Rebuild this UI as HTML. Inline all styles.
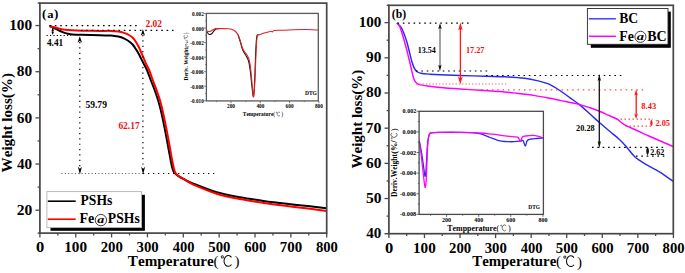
<!DOCTYPE html>
<html><head><meta charset="utf-8"><title>TGA</title>
<style>
html,body{margin:0;padding:0;background:#fff;}
body{width:685px;height:273px;overflow:hidden;font-family:"Liberation Serif",serif;}
svg{display:block;}
</style></head><body>
<svg width="685" height="273" viewBox="0 0 685 273" style="font-kerning:none">
<rect width="685" height="273" fill="#fff"/>
<line x1="39.9" y1="233.1" x2="39.9" y2="237.4" stroke="#4a4a4a" stroke-width="1.3" />
<line x1="57.83" y1="233.1" x2="57.83" y2="235.4" stroke="#4a4a4a" stroke-width="1.3" />
<line x1="75.75" y1="233.1" x2="75.75" y2="237.4" stroke="#4a4a4a" stroke-width="1.3" />
<line x1="93.67" y1="233.1" x2="93.67" y2="235.4" stroke="#4a4a4a" stroke-width="1.3" />
<line x1="111.6" y1="233.1" x2="111.6" y2="237.4" stroke="#4a4a4a" stroke-width="1.3" />
<line x1="129.53" y1="233.1" x2="129.53" y2="235.4" stroke="#4a4a4a" stroke-width="1.3" />
<line x1="147.45" y1="233.1" x2="147.45" y2="237.4" stroke="#4a4a4a" stroke-width="1.3" />
<line x1="165.38" y1="233.1" x2="165.38" y2="235.4" stroke="#4a4a4a" stroke-width="1.3" />
<line x1="183.3" y1="233.1" x2="183.3" y2="237.4" stroke="#4a4a4a" stroke-width="1.3" />
<line x1="201.22" y1="233.1" x2="201.22" y2="235.4" stroke="#4a4a4a" stroke-width="1.3" />
<line x1="219.15" y1="233.1" x2="219.15" y2="237.4" stroke="#4a4a4a" stroke-width="1.3" />
<line x1="237.08" y1="233.1" x2="237.08" y2="235.4" stroke="#4a4a4a" stroke-width="1.3" />
<line x1="255" y1="233.1" x2="255" y2="237.4" stroke="#4a4a4a" stroke-width="1.3" />
<line x1="272.93" y1="233.1" x2="272.93" y2="235.4" stroke="#4a4a4a" stroke-width="1.3" />
<line x1="290.85" y1="233.1" x2="290.85" y2="237.4" stroke="#4a4a4a" stroke-width="1.3" />
<line x1="308.77" y1="233.1" x2="308.77" y2="235.4" stroke="#4a4a4a" stroke-width="1.3" />
<line x1="326.7" y1="233.1" x2="326.7" y2="237.4" stroke="#4a4a4a" stroke-width="1.3" />
<line x1="35.5" y1="210.2" x2="39.9" y2="210.2" stroke="#4a4a4a" stroke-width="1.3" />
<line x1="37.6" y1="187.12" x2="39.9" y2="187.12" stroke="#4a4a4a" stroke-width="1.3" />
<line x1="35.5" y1="164.04" x2="39.9" y2="164.04" stroke="#4a4a4a" stroke-width="1.3" />
<line x1="37.6" y1="140.96" x2="39.9" y2="140.96" stroke="#4a4a4a" stroke-width="1.3" />
<line x1="35.5" y1="117.88" x2="39.9" y2="117.88" stroke="#4a4a4a" stroke-width="1.3" />
<line x1="37.6" y1="94.8" x2="39.9" y2="94.8" stroke="#4a4a4a" stroke-width="1.3" />
<line x1="35.5" y1="71.72" x2="39.9" y2="71.72" stroke="#4a4a4a" stroke-width="1.3" />
<line x1="37.6" y1="48.64" x2="39.9" y2="48.64" stroke="#4a4a4a" stroke-width="1.3" />
<line x1="35.5" y1="25.56" x2="39.9" y2="25.56" stroke="#4a4a4a" stroke-width="1.3" />
<line x1="37.7" y1="3.1" x2="39.9" y2="3.1" stroke="#4a4a4a" stroke-width="1.5" />
<line x1="37.7" y1="233.1" x2="39.9" y2="233.1" stroke="#4a4a4a" stroke-width="1.5" />
<text transform="translate(35.97 252.2) scale(1.1390 1)" font-size="14.5" fill="#000" font-weight="bold" font-family="Liberation Serif">0</text>
<text transform="translate(64.23 252.2) scale(1.0481 1)" font-size="14.5" fill="#000" font-weight="bold" font-family="Liberation Serif">100</text>
<text transform="translate(100.68 252.2) scale(1.0200 1)" font-size="14.5" fill="#000" font-weight="bold" font-family="Liberation Serif">200</text>
<text transform="translate(136.6 252.2) scale(1.0168 1)" font-size="14.5" fill="#000" font-weight="bold" font-family="Liberation Serif">300</text>
<text transform="translate(172.8 252.2) scale(1.0000 1)" font-size="14.5" fill="#000" font-weight="bold" font-family="Liberation Serif">400</text>
<text transform="translate(208.26 252.2) scale(1.0186 1)" font-size="14.5" fill="#000" font-weight="bold" font-family="Liberation Serif">500</text>
<text transform="translate(244.2 252.2) scale(1.0144 1)" font-size="14.5" fill="#000" font-weight="bold" font-family="Liberation Serif">600</text>
<text transform="translate(279.7 252.2) scale(1.0310 1)" font-size="14.5" fill="#000" font-weight="bold" font-family="Liberation Serif">700</text>
<text transform="translate(315.91 252.2) scale(1.0137 1)" font-size="14.5" fill="#000" font-weight="bold" font-family="Liberation Serif">800</text>
<text transform="translate(16.65 214.95) scale(1.0721 1)" font-size="14.5" fill="#000" font-weight="bold" font-family="Liberation Serif">20</text>
<text transform="translate(17.09 168.79) scale(1.0400 1)" font-size="14.5" fill="#000" font-weight="bold" font-family="Liberation Serif">40</text>
<text transform="translate(16.77 122.63) scale(1.0630 1)" font-size="14.5" fill="#000" font-weight="bold" font-family="Liberation Serif">60</text>
<text transform="translate(16.79 76.47) scale(1.0619 1)" font-size="14.5" fill="#000" font-weight="bold" font-family="Liberation Serif">80</text>
<text transform="translate(9.17 30.31) scale(1.0581 1)" font-size="14.5" fill="#000" font-weight="bold" font-family="Liberation Serif">100</text>
<text transform="translate(12.3 172.41) rotate(-90) scale(0.9749 1)" font-size="15.5" fill="#000" font-weight="bold" font-family="Liberation Serif">Weight loss(%)</text>
<text transform="translate(127.86 266.2) scale(1.0474 1)" font-size="14.5" fill="#000" font-weight="bold" font-family="Liberation Serif">Temperature</text>
<text x="213.56" y="266.2" font-size="15.08" fill="#000" font-family="Liberation Serif">(</text>
<circle cx="222.34" cy="256.92" r="1.09" fill="none" stroke="#000" stroke-width="1.02" opacity="0.8"/>
<path d="M231.47 257.39 A4.28 5.37 0 1 0 231.47 264.57" fill="none" stroke="#000" stroke-width="1.02"/>
<text x="234.62" y="266.49" font-size="15.08" fill="#000" font-family="Liberation Serif">)</text>
<text x="41.92" y="18.0" font-size="13.1" font-weight="bold" font-family="Liberation Serif">(</text>
<text transform="translate(47.29 18) scale(1.1448 1)" font-size="11" fill="#000" font-weight="bold" font-family="Liberation Serif">a</text>
<text x="53.91" y="18.0" font-size="13.1" font-weight="bold" font-family="Liberation Serif">)</text>
<line x1="204.1" y1="13.57" x2="206.4" y2="13.57" stroke="#5a5a5a" stroke-width="0.8" />
<line x1="205.2" y1="20.84" x2="206.4" y2="20.84" stroke="#5a5a5a" stroke-width="0.8" />
<line x1="204.1" y1="28.1" x2="206.4" y2="28.1" stroke="#5a5a5a" stroke-width="0.8" />
<line x1="205.2" y1="35.37" x2="206.4" y2="35.37" stroke="#5a5a5a" stroke-width="0.8" />
<line x1="204.1" y1="42.63" x2="206.4" y2="42.63" stroke="#5a5a5a" stroke-width="0.8" />
<line x1="205.2" y1="49.89" x2="206.4" y2="49.89" stroke="#5a5a5a" stroke-width="0.8" />
<line x1="204.1" y1="57.16" x2="206.4" y2="57.16" stroke="#5a5a5a" stroke-width="0.8" />
<line x1="205.2" y1="64.42" x2="206.4" y2="64.42" stroke="#5a5a5a" stroke-width="0.8" />
<line x1="204.1" y1="71.69" x2="206.4" y2="71.69" stroke="#5a5a5a" stroke-width="0.8" />
<line x1="205.2" y1="78.95" x2="206.4" y2="78.95" stroke="#5a5a5a" stroke-width="0.8" />
<line x1="204.1" y1="86.22" x2="206.4" y2="86.22" stroke="#5a5a5a" stroke-width="0.8" />
<line x1="205.2" y1="93.48" x2="206.4" y2="93.48" stroke="#5a5a5a" stroke-width="0.8" />
<line x1="204.1" y1="100.75" x2="206.4" y2="100.75" stroke="#5a5a5a" stroke-width="0.8" />
<text transform="translate(192 15.97) scale(0.9386 1)" font-size="5.6" fill="#000" font-weight="bold" font-family="Liberation Serif">0.002</text>
<text transform="translate(192 30.5) scale(0.9365 1)" font-size="5.6" fill="#000" font-weight="bold" font-family="Liberation Serif">0.000</text>
<text transform="translate(190.21 45.03) scale(0.9416 1)" font-size="5.6" fill="#000" font-weight="bold" font-family="Liberation Serif">-0.002</text>
<text transform="translate(190.21 59.56) scale(0.9325 1)" font-size="5.6" fill="#000" font-weight="bold" font-family="Liberation Serif">-0.004</text>
<text transform="translate(190.21 74.09) scale(0.9365 1)" font-size="5.6" fill="#000" font-weight="bold" font-family="Liberation Serif">-0.006</text>
<text transform="translate(190.21 88.62) scale(0.9379 1)" font-size="5.6" fill="#000" font-weight="bold" font-family="Liberation Serif">-0.008</text>
<text transform="translate(190.21 103.15) scale(0.9397 1)" font-size="5.6" fill="#000" font-weight="bold" font-family="Liberation Serif">-0.010</text>
<line x1="216.35" y1="100.9" x2="216.35" y2="102.1" stroke="#5a5a5a" stroke-width="0.8" />
<line x1="231" y1="100.9" x2="231" y2="103.2" stroke="#5a5a5a" stroke-width="0.8" />
<line x1="245.64" y1="100.9" x2="245.64" y2="102.1" stroke="#5a5a5a" stroke-width="0.8" />
<line x1="260.29" y1="100.9" x2="260.29" y2="103.2" stroke="#5a5a5a" stroke-width="0.8" />
<line x1="274.94" y1="100.9" x2="274.94" y2="102.1" stroke="#5a5a5a" stroke-width="0.8" />
<line x1="289.59" y1="100.9" x2="289.59" y2="103.2" stroke="#5a5a5a" stroke-width="0.8" />
<line x1="304.24" y1="100.9" x2="304.24" y2="102.1" stroke="#5a5a5a" stroke-width="0.8" />
<line x1="318.88" y1="100.9" x2="318.88" y2="103.2" stroke="#5a5a5a" stroke-width="0.8" />
<text transform="translate(226.97 107.9) scale(0.8921 1)" font-size="6" fill="#000" font-weight="bold" font-family="Liberation Serif">200</text>
<text transform="translate(256.42 107.9) scale(0.8746 1)" font-size="6" fill="#000" font-weight="bold" font-family="Liberation Serif">400</text>
<text transform="translate(285.61 107.9) scale(0.8872 1)" font-size="6" fill="#000" font-weight="bold" font-family="Liberation Serif">600</text>
<text transform="translate(314.91 107.9) scale(0.8866 1)" font-size="6" fill="#000" font-weight="bold" font-family="Liberation Serif">800</text>
<text transform="translate(242.82 116) scale(0.8447 1)" font-size="6.4" fill="#000" font-weight="bold" font-family="Liberation Serif">Temperature</text>
<text x="273.32" y="116" font-size="5.62" fill="#000" font-family="Liberation Serif">(</text>
<circle cx="276.59" cy="112.54" r="0.41" fill="none" stroke="#000" stroke-width="0.45" opacity="0.8"/>
<path d="M279.99 112.72 A1.59 2 0 1 0 279.99 115.39" fill="none" stroke="#000" stroke-width="0.45"/>
<text x="281.17" y="116.11" font-size="5.62" fill="#000" font-family="Liberation Serif">)</text>
<g transform="translate(187.6 80.4) rotate(-90)">
<text transform="translate(-0.1 0) scale(1.0070 1)" font-size="5.4" fill="#000" font-weight="bold" font-family="Liberation Serif">Deriv. Weight</text>
<text x="32.68" y="0" font-size="5" font-weight="bold" font-family="Liberation Serif" fill="#000">(%/</text>
<circle cx="42.03" cy="-3.2" r="0.38" fill="none" stroke="#000" stroke-width="0.45" opacity="0.8"/>
<path d="M45.18 -3.04 A1.47 1.85 0 1 0 45.18 -0.56" fill="none" stroke="#000" stroke-width="0.45"/>
<text x="46.27" y="0.1" font-size="5.2" fill="#000" font-family="Liberation Serif">)</text>
</g>
<text transform="translate(304.9 94.6) scale(1.0110 1)" font-size="5.5" fill="#000" font-weight="bold" font-family="Liberation Serif">DTG</text>
<path d="M206.5 31.5 C206.83 31.88 207.92 33.3 208.5 33.8 C209.08 34.3 209.42 34.55 210 34.5 C210.58 34.45 211.33 34.12 212 33.5 C212.67 32.88 213.33 31.55 214 30.8 C214.67 30.05 215 29.37 216 29 C217 28.63 219.33 28.67 220 28.6" fill="none" stroke="#111" stroke-width="1.1"/>
<path d="M238 34.7 C238.38 35.88 239.6 39.5 240.3 41.8 C241 44.1 241.55 46.67 242.2 48.5 C242.85 50.33 243.48 51.47 244.2 52.8 C244.92 54.13 245.75 55.05 246.5 56.5 C247.25 57.95 248.07 59.08 248.7 61.5 C249.33 63.92 249.78 67.08 250.3 71 C250.82 74.92 251.32 80.78 251.8 85 C252.28 89.22 252.78 95.8 253.2 96.3 C253.62 96.8 254 92.05 254.3 88 C254.6 83.95 254.75 78.33 255 72 C255.25 65.67 255.5 55.92 255.8 50 C256.1 44.08 256.35 39 256.8 36.5 C257.25 34 258.22 35.25 258.5 35" fill="none" stroke="#111" stroke-width="1.1"/>
<path d="M206.5 30.9 C206.83 31.02 207.83 31.53 208.5 31.6 C209.17 31.67 209.75 31.6 210.5 31.3 C211.25 31 212.08 30.27 213 29.8 C213.92 29.33 214.83 28.7 216 28.5 C217.17 28.3 217.92 28.57 220 28.6 C222.08 28.63 226.5 28.57 228.5 28.7 C230.5 28.83 230.92 29.02 232 29.4 C233.08 29.78 234 30.12 235 31 C236 31.88 237.08 32.95 238 34.7 C238.92 36.45 239.75 39.28 240.5 41.5 C241.25 43.72 241.83 46.28 242.5 48 C243.17 49.72 243.75 50.63 244.5 51.8 C245.25 52.97 246.2 53.55 247 55 C247.8 56.45 248.67 58 249.3 60.5 C249.93 63 250.32 65.92 250.8 70 C251.28 74.08 251.75 80.5 252.2 85 C252.65 89.5 253.12 96.5 253.5 97 C253.88 97.5 254.2 92.17 254.5 88 C254.8 83.83 255.02 78.33 255.3 72 C255.58 65.67 255.88 56 256.2 50 C256.52 44 256.73 38.53 257.2 36 C257.67 33.47 258.1 35.2 259 34.8 C259.9 34.4 261.27 34.02 262.6 33.6 C263.93 33.18 265.6 32.7 267 32.3 C268.4 31.9 270.12 31.27 271 31.2 C271.88 31.13 271.8 32 272.3 31.9 C272.8 31.8 272.77 30.88 274 30.6 C275.23 30.32 277.03 30.32 279.7 30.2 C282.37 30.08 285.78 30 290 29.9 C294.22 29.8 300.3 29.57 305 29.6 C309.7 29.63 316 30.02 318.2 30.1" fill="none" stroke="#e42020" stroke-width="1.05"/>
<rect x="206.4" y="13.4" width="111.9" height="87.5" fill="none" stroke="#5a5a5a" stroke-width="1.3"/>
<path d="M49.6 26 C50.37 26.33 52.68 27.28 54.2 28 C55.72 28.72 57.18 29.57 58.7 30.3 C60.22 31.03 61.77 31.83 63.3 32.4 C64.83 32.97 66.37 33.37 67.9 33.7 C69.43 34.03 70.22 34.22 72.5 34.4 C74.78 34.58 77.02 34.65 81.6 34.8 C86.18 34.95 95.1 35.17 100 35.3 C104.9 35.43 107.95 35.38 111 35.6 C114.05 35.82 116.17 36.15 118.3 36.6 C120.43 37.05 122.1 37.57 123.8 38.3 C125.5 39.03 127.03 39.97 128.5 41 C129.97 42.03 131.38 43.17 132.6 44.5 C133.82 45.83 134.77 47.42 135.8 49 C136.83 50.58 137.88 52.33 138.8 54 C139.72 55.67 140.46 57.33 141.3 59 C142.14 60.67 142.89 62.17 143.82 64 C144.76 65.83 145.78 67.33 146.93 70 C148.08 72.67 149.43 76.67 150.71 80 C151.99 83.33 153.41 86.67 154.62 90 C155.84 93.33 157.01 96.67 158.03 100 C159.04 103.33 159.91 106.67 160.74 110 C161.56 113.33 162.27 116.67 162.98 120 C163.69 123.33 164.35 126.67 165.01 130 C165.66 133.33 166.29 136.67 166.92 140 C167.54 143.33 168.13 146.67 168.75 150 C169.37 153.33 169.97 156.83 170.61 160 C171.25 163.17 171.95 166.83 172.6 169 C173.25 171.17 173.6 171.87 174.5 173 C175.4 174.13 176.42 174.77 178 175.8 C179.58 176.83 181.45 177.9 184 179.2 C186.55 180.5 187.85 181.43 193.3 183.6 C198.75 185.77 208.92 189.92 216.7 192.2 C224.48 194.48 232.2 195.85 240 197.3 C247.8 198.75 255.7 199.82 263.5 200.9 C271.3 201.98 279.05 202.9 286.8 203.8 C294.55 204.7 303.4 205.57 310 206.3 C316.6 207.03 323.67 207.88 326.4 208.2" fill="none" stroke="#000" stroke-width="2"/>
<path d="M49.6 26 C50.37 26.22 52.68 26.9 54.2 27.3 C55.72 27.7 57.18 28.05 58.7 28.4 C60.22 28.75 61 29.08 63.3 29.4 C65.6 29.72 69.45 30.08 72.5 30.3 C75.55 30.52 77.02 30.6 81.6 30.7 C86.18 30.8 95.1 30.87 100 30.9 C104.9 30.93 107.95 30.8 111 30.9 C114.05 31 116.13 31.17 118.3 31.5 C120.47 31.83 122.22 32.32 124 32.9 C125.78 33.48 127.5 34.15 129 35 C130.5 35.85 131.78 36.75 133 38 C134.22 39.25 135.33 41 136.3 42.5 C137.27 44 138.02 45.42 138.8 47 C139.58 48.58 140.2 50.17 141 52 C141.8 53.83 142.74 56 143.6 58 C144.46 60 145.22 62 146.14 64 C147.06 66 148.01 67.33 149.11 70 C150.21 72.67 151.49 76.67 152.73 80 C153.97 83.33 155.37 86.67 156.56 90 C157.75 93.33 158.9 96.67 159.88 100 C160.87 103.33 161.68 106.67 162.47 110 C163.27 113.33 163.94 116.67 164.62 120 C165.31 123.33 165.96 126.67 166.61 130 C167.26 133.33 167.9 136.67 168.51 140 C169.13 143.33 169.71 146.67 170.31 150 C170.91 153.33 171.49 156.83 172.11 160 C172.72 163.17 173.42 166.77 174 169 C174.58 171.23 174.77 172.18 175.6 173.4 C176.43 174.62 177.43 175.22 179 176.3 C180.57 177.38 182.62 178.52 185 179.9 C187.38 181.28 188.02 182.3 193.3 184.6 C198.58 186.9 208.92 191.28 216.7 193.7 C224.48 196.12 232.2 197.57 240 199.1 C247.8 200.63 255.7 201.75 263.5 202.9 C271.3 204.05 279.05 205.02 286.8 206 C294.55 206.98 303.4 207.98 310 208.8 C316.6 209.62 323.67 210.55 326.4 210.9" fill="none" stroke="#ff0000" stroke-width="2"/>
<line x1="49.5" y1="25.55" x2="140" y2="25.55" stroke="#000" stroke-width="1.2" stroke-dasharray="1.6 3.75" opacity="1"/>
<line x1="46.6" y1="35.5" x2="71" y2="35.5" stroke="#000" stroke-width="1" stroke-dasharray="1.2 2.2" opacity="1"/>
<line x1="81" y1="30.45" x2="174" y2="30.45" stroke="#000" stroke-width="1.2" stroke-dasharray="1.6 3.75" opacity="1"/>
<line x1="61.5" y1="173.5" x2="143" y2="173.5" stroke="#333" stroke-width="1" stroke-dasharray="1 2.35" opacity="0.85"/>
<line x1="143" y1="173.5" x2="217" y2="173.5" stroke="#000" stroke-width="1" stroke-dasharray="1.3 3.7" opacity="1"/>
<line x1="79.8" y1="42" x2="79.8" y2="168" stroke="#000" stroke-width="1.2" stroke-dasharray="1.2 4.15" opacity="1"/>
<line x1="142.9" y1="35" x2="142.9" y2="168" stroke="#000" stroke-width="1.2" stroke-dasharray="1.2 4.15" opacity="1"/>
<path d="M79.8 36.2 L77.5 42.8 L79.8 41 L82.1 42.8 Z" fill="#000"/>
<path d="M79.9 174.6 L77.9 166.8 L79.9 168.8 L81.9 166.8 Z" fill="#000"/>
<path d="M142.9 29.1 L140.8 35.7 L142.9 34.1 L145 35.7 Z" fill="#000"/>
<path d="M143.1 174.6 L141.1 166.8 L143.1 168.8 L145.1 166.8 Z" fill="#000"/>
<line x1="52.7" y1="29.5" x2="52.7" y2="33" stroke="#111" stroke-width="1" />
<path d="M52.7 27.3 L51.4 30.9 L52.7 30.4 L54 30.9 Z" fill="#000"/>
<path d="M52.7 35 L51.4 31.4 L52.7 31.9 L54 31.4 Z" fill="#000"/>
<text transform="translate(46.97 46.4) scale(0.9958 1)" font-size="9.3" fill="#000" font-weight="bold" font-family="Liberation Serif">4.41</text>
<text transform="translate(85.42 107.5) scale(0.9568 1)" font-size="10" fill="#000" font-weight="bold" font-family="Liberation Serif">59.79</text>
<text transform="translate(118.38 128.9) scale(0.9492 1)" font-size="10" fill="#f01010" font-weight="bold" font-family="Liberation Serif">62.17</text>
<text transform="translate(145.5 26.5) scale(0.9489 1)" font-size="10" fill="#f01010" font-weight="bold" font-family="Liberation Serif">2.02</text>
<rect x="50.5" y="194.8" width="94.4" height="36.0" fill="#000"/>
<rect x="46.9" y="191.6" width="94.6" height="36.0" fill="#fff" stroke="#b4b4b4" stroke-width="0.9"/>
<line x1="47.8" y1="201.2" x2="75.7" y2="201.2" stroke="#000" stroke-width="1.6" />
<line x1="47.8" y1="219.2" x2="75.7" y2="219.2" stroke="#ff0000" stroke-width="1.6" />
<text transform="translate(80.57 205.1) scale(0.8954 1)" font-size="15.2" fill="#000" font-weight="bold" font-family="Liberation Serif">PSHs</text>
<text transform="translate(79.46 222.8) scale(0.9299 1)" font-size="15.2" fill="#000" font-weight="bold" font-family="Liberation Serif">Fe</text>
<circle cx="100.9" cy="220.1" r="5.7" fill="none" stroke="#000" stroke-width="0.75"/>
<text transform="translate(97.34 222.8) scale(1.273 1)" font-size="11" fill="#000" font-weight="bold" font-style="italic" font-family="Liberation Serif">a</text>
<text transform="translate(107.87 222.8) scale(0.8982 1)" font-size="15.2" fill="#000" font-weight="bold" font-family="Liberation Serif">PSHs</text>
<rect x="39.9" y="3.1" width="286.8" height="230" fill="none" stroke="#474747" stroke-width="1.7"/>
<line x1="388.9" y1="233.7" x2="388.9" y2="238.1" stroke="#4a4a4a" stroke-width="1.3" />
<line x1="406.68" y1="233.7" x2="406.68" y2="236" stroke="#4a4a4a" stroke-width="1.3" />
<line x1="424.46" y1="233.7" x2="424.46" y2="238.1" stroke="#4a4a4a" stroke-width="1.3" />
<line x1="442.24" y1="233.7" x2="442.24" y2="236" stroke="#4a4a4a" stroke-width="1.3" />
<line x1="460.03" y1="233.7" x2="460.03" y2="238.1" stroke="#4a4a4a" stroke-width="1.3" />
<line x1="477.81" y1="233.7" x2="477.81" y2="236" stroke="#4a4a4a" stroke-width="1.3" />
<line x1="495.59" y1="233.7" x2="495.59" y2="238.1" stroke="#4a4a4a" stroke-width="1.3" />
<line x1="513.37" y1="233.7" x2="513.37" y2="236" stroke="#4a4a4a" stroke-width="1.3" />
<line x1="531.15" y1="233.7" x2="531.15" y2="238.1" stroke="#4a4a4a" stroke-width="1.3" />
<line x1="548.93" y1="233.7" x2="548.93" y2="236" stroke="#4a4a4a" stroke-width="1.3" />
<line x1="566.71" y1="233.7" x2="566.71" y2="238.1" stroke="#4a4a4a" stroke-width="1.3" />
<line x1="584.5" y1="233.7" x2="584.5" y2="236" stroke="#4a4a4a" stroke-width="1.3" />
<line x1="602.28" y1="233.7" x2="602.28" y2="238.1" stroke="#4a4a4a" stroke-width="1.3" />
<line x1="620.06" y1="233.7" x2="620.06" y2="236" stroke="#4a4a4a" stroke-width="1.3" />
<line x1="637.84" y1="233.7" x2="637.84" y2="238.1" stroke="#4a4a4a" stroke-width="1.3" />
<line x1="655.62" y1="233.7" x2="655.62" y2="236" stroke="#4a4a4a" stroke-width="1.3" />
<line x1="673.4" y1="233.7" x2="673.4" y2="238.1" stroke="#4a4a4a" stroke-width="1.3" />
<line x1="386.6" y1="216.11" x2="388.9" y2="216.11" stroke="#4a4a4a" stroke-width="1.3" />
<line x1="384.5" y1="198.52" x2="388.9" y2="198.52" stroke="#4a4a4a" stroke-width="1.3" />
<line x1="386.6" y1="180.93" x2="388.9" y2="180.93" stroke="#4a4a4a" stroke-width="1.3" />
<line x1="384.5" y1="163.34" x2="388.9" y2="163.34" stroke="#4a4a4a" stroke-width="1.3" />
<line x1="386.6" y1="145.75" x2="388.9" y2="145.75" stroke="#4a4a4a" stroke-width="1.3" />
<line x1="384.5" y1="128.16" x2="388.9" y2="128.16" stroke="#4a4a4a" stroke-width="1.3" />
<line x1="386.6" y1="110.57" x2="388.9" y2="110.57" stroke="#4a4a4a" stroke-width="1.3" />
<line x1="384.5" y1="92.98" x2="388.9" y2="92.98" stroke="#4a4a4a" stroke-width="1.3" />
<line x1="386.6" y1="75.39" x2="388.9" y2="75.39" stroke="#4a4a4a" stroke-width="1.3" />
<line x1="384.5" y1="57.8" x2="388.9" y2="57.8" stroke="#4a4a4a" stroke-width="1.3" />
<line x1="386.6" y1="40.21" x2="388.9" y2="40.21" stroke="#4a4a4a" stroke-width="1.3" />
<line x1="384.5" y1="22.62" x2="388.9" y2="22.62" stroke="#4a4a4a" stroke-width="1.3" />
<line x1="386.7" y1="5.3" x2="388.9" y2="5.3" stroke="#4a4a4a" stroke-width="1.5" />
<line x1="384.5" y1="233.7" x2="388.9" y2="233.7" stroke="#4a4a4a" stroke-width="1.5" />
<text transform="translate(384.97 253.3) scale(1.1390 1)" font-size="14.5" fill="#000" font-weight="bold" font-family="Liberation Serif">0</text>
<text transform="translate(412.95 253.3) scale(1.0481 1)" font-size="14.5" fill="#000" font-weight="bold" font-family="Liberation Serif">100</text>
<text transform="translate(449.1 253.3) scale(1.0200 1)" font-size="14.5" fill="#000" font-weight="bold" font-family="Liberation Serif">200</text>
<text transform="translate(484.73 253.3) scale(1.0168 1)" font-size="14.5" fill="#000" font-weight="bold" font-family="Liberation Serif">300</text>
<text transform="translate(520.65 253.3) scale(1.0000 1)" font-size="14.5" fill="#000" font-weight="bold" font-family="Liberation Serif">400</text>
<text transform="translate(555.82 253.3) scale(1.0186 1)" font-size="14.5" fill="#000" font-weight="bold" font-family="Liberation Serif">500</text>
<text transform="translate(591.48 253.3) scale(1.0144 1)" font-size="14.5" fill="#000" font-weight="bold" font-family="Liberation Serif">600</text>
<text transform="translate(626.69 253.3) scale(1.0310 1)" font-size="14.5" fill="#000" font-weight="bold" font-family="Liberation Serif">700</text>
<text transform="translate(662.62 253.3) scale(1.0137 1)" font-size="14.5" fill="#000" font-weight="bold" font-family="Liberation Serif">800</text>
<text transform="translate(366.29 238.1) scale(1.0190 1)" font-size="14.8" fill="#000" font-weight="bold" font-family="Liberation Serif">40</text>
<text transform="translate(365.88 202.92) scale(1.0481 1)" font-size="14.8" fill="#000" font-weight="bold" font-family="Liberation Serif">50</text>
<text transform="translate(365.97 167.74) scale(1.0415 1)" font-size="14.8" fill="#000" font-weight="bold" font-family="Liberation Serif">60</text>
<text transform="translate(365.6 132.56) scale(1.0679 1)" font-size="14.8" fill="#000" font-weight="bold" font-family="Liberation Serif">70</text>
<text transform="translate(365.99 97.38) scale(1.0404 1)" font-size="14.8" fill="#000" font-weight="bold" font-family="Liberation Serif">80</text>
<text transform="translate(366.08 62.2) scale(1.0339 1)" font-size="14.8" fill="#000" font-weight="bold" font-family="Liberation Serif">90</text>
<text transform="translate(358.69 27.02) scale(1.0219 1)" font-size="14.8" fill="#000" font-weight="bold" font-family="Liberation Serif">100</text>
<text transform="translate(362.1 168.51) rotate(-90) scale(0.9690 1)" font-size="15.5" fill="#000" font-weight="bold" font-family="Liberation Serif">Weight loss(%)</text>
<text transform="translate(472.27 266.4) scale(1.0241 1)" font-size="14.5" fill="#000" font-weight="bold" font-family="Liberation Serif">Temperature</text>
<text x="556.06" y="266.4" font-size="15.08" fill="#000" font-family="Liberation Serif">(</text>
<circle cx="564.85" cy="257.12" r="1.09" fill="none" stroke="#000" stroke-width="1.02" opacity="0.8"/>
<path d="M573.97 257.59 A4.28 5.37 0 1 0 573.97 264.77" fill="none" stroke="#000" stroke-width="1.02"/>
<text x="577.12" y="266.69" font-size="15.08" fill="#000" font-family="Liberation Serif">)</text>
<text transform="translate(391.78 18.4) scale(0.9937 1)" font-size="11.8" fill="#000" font-weight="bold" font-family="Liberation Serif">(b)</text>
<line x1="416.6" y1="111.3" x2="419.1" y2="111.3" stroke="#4a4a4a" stroke-width="0.8" />
<line x1="417.8" y1="121.6" x2="419.1" y2="121.6" stroke="#4a4a4a" stroke-width="0.8" />
<line x1="416.6" y1="131.9" x2="419.1" y2="131.9" stroke="#4a4a4a" stroke-width="0.8" />
<line x1="417.8" y1="142.2" x2="419.1" y2="142.2" stroke="#4a4a4a" stroke-width="0.8" />
<line x1="416.6" y1="152.5" x2="419.1" y2="152.5" stroke="#4a4a4a" stroke-width="0.8" />
<line x1="417.8" y1="162.8" x2="419.1" y2="162.8" stroke="#4a4a4a" stroke-width="0.8" />
<line x1="416.6" y1="173.1" x2="419.1" y2="173.1" stroke="#4a4a4a" stroke-width="0.8" />
<line x1="417.8" y1="183.4" x2="419.1" y2="183.4" stroke="#4a4a4a" stroke-width="0.8" />
<line x1="416.6" y1="193.7" x2="419.1" y2="193.7" stroke="#4a4a4a" stroke-width="0.8" />
<line x1="417.8" y1="204" x2="419.1" y2="204" stroke="#4a4a4a" stroke-width="0.8" />
<line x1="416.6" y1="214.3" x2="419.1" y2="214.3" stroke="#4a4a4a" stroke-width="0.8" />
<text transform="translate(402.57 113.3) scale(1.1704 1)" font-size="5.2" fill="#000" font-weight="bold" font-family="Liberation Serif">0.002</text>
<text transform="translate(402.57 133.9) scale(1.1677 1)" font-size="5.2" fill="#000" font-weight="bold" font-family="Liberation Serif">0.000</text>
<text transform="translate(399.97 154.5) scale(1.2137 1)" font-size="5.2" fill="#000" font-weight="bold" font-family="Liberation Serif">-0.002</text>
<text transform="translate(399.97 175.1) scale(1.2020 1)" font-size="5.2" fill="#000" font-weight="bold" font-family="Liberation Serif">-0.004</text>
<text transform="translate(399.97 195.7) scale(1.2071 1)" font-size="5.2" fill="#000" font-weight="bold" font-family="Liberation Serif">-0.006</text>
<text transform="translate(399.97 216.3) scale(1.2090 1)" font-size="5.2" fill="#000" font-weight="bold" font-family="Liberation Serif">-0.008</text>
<line x1="430.55" y1="214.4" x2="430.55" y2="215.7" stroke="#4a4a4a" stroke-width="0.8" />
<line x1="446.6" y1="214.4" x2="446.6" y2="216.9" stroke="#4a4a4a" stroke-width="0.8" />
<line x1="462.65" y1="214.4" x2="462.65" y2="215.7" stroke="#4a4a4a" stroke-width="0.8" />
<line x1="478.7" y1="214.4" x2="478.7" y2="216.9" stroke="#4a4a4a" stroke-width="0.8" />
<line x1="494.75" y1="214.4" x2="494.75" y2="215.7" stroke="#4a4a4a" stroke-width="0.8" />
<line x1="510.8" y1="214.4" x2="510.8" y2="216.9" stroke="#4a4a4a" stroke-width="0.8" />
<line x1="526.85" y1="214.4" x2="526.85" y2="215.7" stroke="#4a4a4a" stroke-width="0.8" />
<line x1="542.9" y1="214.4" x2="542.9" y2="216.9" stroke="#4a4a4a" stroke-width="0.8" />
<text transform="translate(442.05 222.3) scale(0.9318 1)" font-size="6.5" fill="#000" font-weight="bold" font-family="Liberation Serif">200</text>
<text transform="translate(474.32 222.3) scale(0.9136 1)" font-size="6.5" fill="#000" font-weight="bold" font-family="Liberation Serif">400</text>
<text transform="translate(506.29 222.3) scale(0.9267 1)" font-size="6.5" fill="#000" font-weight="bold" font-family="Liberation Serif">600</text>
<text transform="translate(538.4 222.3) scale(0.9261 1)" font-size="6.5" fill="#000" font-weight="bold" font-family="Liberation Serif">800</text>
<text transform="translate(447.28 230.7) scale(1.0038 1)" font-size="7.9" fill="#000" font-weight="bold" font-family="Liberation Serif">Tempperature</text>
<text x="496.43" y="230.7" font-size="8.22" fill="#000" font-family="Liberation Serif">(</text>
<circle cx="501.22" cy="225.64" r="0.59" fill="none" stroke="#000" stroke-width="0.55" opacity="0.8"/>
<path d="M506.19 225.9 A2.33 2.92 0 1 0 506.19 229.81" fill="none" stroke="#000" stroke-width="0.55"/>
<text x="507.91" y="230.86" font-size="8.22" fill="#000" font-family="Liberation Serif">)</text>
<g transform="translate(397.0 196.8) rotate(-90)">
<text transform="translate(-0.13 0) scale(0.9811 1)" font-size="7.6" fill="#000" font-weight="bold" font-family="Liberation Serif">Deriv.Weight</text>
<text x="43" y="0" font-size="8.3" font-weight="bold" font-family="Liberation Serif" fill="#000">(%/</text>
<circle cx="58.53" cy="-5.31" r="0.62" fill="none" stroke="#000" stroke-width="0.58" opacity="0.8"/>
<path d="M63.75 -5.04 A2.45 3.07 0 1 0 63.75 -0.93" fill="none" stroke="#000" stroke-width="0.58"/>
<text x="65.55" y="0.17" font-size="8.63" fill="#000" font-family="Liberation Serif">)</text>
</g>
<text transform="translate(528.31 209.2) scale(0.8665 1)" font-size="6.2" fill="#000" font-weight="bold" font-family="Liberation Serif">DTG</text>
<path d="M419.3 141 C419.5 142 420.05 144.58 420.5 147 C420.95 149.42 421.5 152.33 422 155.5 C422.5 158.67 423.08 163 423.5 166 C423.92 169 424.22 171.78 424.5 173.5 C424.78 175.22 424.97 176.55 425.2 176.3 C425.43 176.05 425.67 174.72 425.9 172 C426.13 169.28 426.37 164.17 426.6 160 C426.83 155.83 427.03 150.58 427.3 147 C427.57 143.42 427.83 140.62 428.2 138.5 C428.57 136.38 428.95 135.25 429.5 134.3 C430.05 133.35 429.75 133.12 431.5 132.8 C433.25 132.48 435.25 132.47 440 132.4 C444.75 132.33 454.17 132.33 460 132.4 C465.83 132.47 471.38 132.5 475 132.8 C478.62 133.1 479.2 133.42 481.7 134.2 C484.2 134.98 487.32 136.48 490 137.5 C492.68 138.52 495.3 139.63 497.8 140.3 C500.3 140.97 502.32 141.27 505 141.5 C507.68 141.73 511.4 141.75 513.9 141.7 C516.4 141.65 518.48 141.4 520 141.2 C521.52 141 522.12 139.67 523 140.5 C523.88 141.33 524.58 146.2 525.3 146.2 C526.02 146.2 526.27 141.7 527.3 140.5 C528.33 139.3 529.88 139.33 531.5 139 C533.12 138.67 535.03 138.68 537 138.5 C538.97 138.32 542.25 138 543.3 137.9" fill="none" stroke="#2a2af0" stroke-width="1.3"/>
<path d="M419.5 143.5 C419.7 144.75 420.25 147.58 420.7 151 C421.15 154.42 421.73 159.83 422.2 164 C422.67 168.17 423.08 172.42 423.5 176 C423.92 179.58 424.38 183.63 424.7 185.5 C425.02 187.37 425.17 187.78 425.4 187.2 C425.63 186.62 425.88 185.2 426.1 182 C426.32 178.8 426.48 173.17 426.7 168 C426.92 162.83 427.15 155.75 427.4 151 C427.65 146.25 427.87 142.23 428.2 139.5 C428.53 136.77 428.88 135.73 429.4 134.6 C429.92 133.47 429.53 133.08 431.3 132.7 C433.07 132.32 435.22 132.37 440 132.3 C444.78 132.23 453.33 132.18 460 132.3 C466.67 132.42 474.67 132.68 480 133 C485.33 133.32 487.83 133.73 492 134.2 C496.17 134.67 501.33 135.37 505 135.8 C508.67 136.23 511.78 136.5 514 136.8 C516.22 137.1 517.22 136.82 518.3 137.6 C519.38 138.38 519.83 141.6 520.5 141.5 C521.17 141.4 521.38 137.92 522.3 137 C523.22 136.08 524.22 136.27 526 136 C527.78 135.73 531 135.37 533 135.4 C535 135.43 536.28 135.78 538 136.2 C539.72 136.62 542.42 137.62 543.3 137.9" fill="none" stroke="#ff00ff" stroke-width="1.3"/>
<rect x="419.1" y="111.3" width="124.3" height="103.1" fill="none" stroke="#4a4a4a" stroke-width="1.3"/>
<path d="M396.9 23 C397.58 23.7 399.7 25.12 401 27.2 C402.3 29.28 403.7 32.95 404.7 35.5 C405.7 38.05 406.28 40.05 407 42.5 C407.72 44.95 408.17 46.95 409 50.2 C409.83 53.45 411.03 58.83 412 62 C412.97 65.17 413.88 67.53 414.8 69.2 C415.72 70.87 416.47 71.32 417.5 72 C418.53 72.68 418.92 72.93 421 73.3 C423.08 73.67 426.83 73.95 430 74.2 C433.17 74.45 435 74.58 440 74.8 C445 75.02 452.33 75.25 460 75.5 C467.67 75.75 478.5 76.08 486 76.3 C493.5 76.52 498.57 76.47 505 76.8 C511.43 77.13 519.27 77.67 524.6 78.3 C529.93 78.93 532.77 79.55 537 80.6 C541.23 81.65 545.83 82.7 550 84.6 C554.17 86.5 558.67 89.8 562 92 C565.33 94.2 567.17 95.73 570 97.8 C572.83 99.87 575.67 101.7 579 104.4 C582.33 107.1 586.55 110.93 590 114 C593.45 117.07 596.37 119.88 599.7 122.8 C603.03 125.72 606.62 128.63 610 131.5 C613.38 134.37 617.17 137.33 620 140 C622.83 142.67 624.5 144.67 627 147.5 C629.5 150.33 632 154.28 635 157 C638 159.72 640.78 161.25 645 163.8 C649.22 166.35 655.62 169.37 660.3 172.3 C664.98 175.23 670.97 179.88 673.1 181.4" fill="none" stroke="#2a2af0" stroke-width="1.45"/>
<path d="M396.9 23 C397.33 23.53 398.7 24.7 399.5 26.2 C400.3 27.7 400.62 28.53 401.7 32 C402.78 35.47 404.87 42.83 406 47 C407.13 51.17 407.75 54 408.5 57 C409.25 60 409.67 61.5 410.5 65 C411.33 68.5 412.58 75.1 413.5 78 C414.42 80.9 415.03 81.3 416 82.4 C416.97 83.5 416.97 83.95 419.3 84.6 C421.63 85.25 426.55 85.82 430 86.3 C433.45 86.78 435 87.05 440 87.5 C445 87.95 453.17 88.53 460 89 C466.83 89.47 474.33 89.88 481 90.3 C487.67 90.72 494 91 500 91.5 C506 92 511.17 92.62 517 93.3 C522.83 93.98 529.5 94.77 535 95.6 C540.5 96.43 545.83 97.5 550 98.3 C554.17 99.1 555.17 99.38 560 100.4 C564.83 101.42 574 103.17 579 104.4 C584 105.63 586.5 106.62 590 107.8 C593.5 108.98 596.95 110.27 600 111.5 C603.05 112.73 605.38 113.88 608.3 115.2 C611.22 116.52 615.22 118.1 617.5 119.4 C619.78 120.7 620.48 121.93 622 123 C623.52 124.07 624.3 124.63 626.6 125.8 C628.9 126.97 631.9 128.22 635.8 130 C639.7 131.78 643.78 133.75 650 136.5 C656.22 139.25 669.25 144.83 673.1 146.5" fill="none" stroke="#ff00ff" stroke-width="1.45"/>
<line x1="397.5" y1="23.2" x2="469" y2="23.2" stroke="#000" stroke-width="1.2" stroke-dasharray="1.6 3.75" opacity="1"/>
<line x1="416" y1="71" x2="489" y2="71" stroke="#000" stroke-width="1.2" stroke-dasharray="1.6 3.75" opacity="1"/>
<line x1="486" y1="75.5" x2="625" y2="75.5" stroke="#000" stroke-width="1.2" stroke-dasharray="1.6 3.75" opacity="1"/>
<line x1="416" y1="84" x2="508.5" y2="84" stroke="#f06060" stroke-width="1.4" stroke-dasharray="1.2 2.1" opacity="0.7"/>
<line x1="481.2" y1="89.9" x2="646" y2="89.9" stroke="#f03030" stroke-width="1.3" stroke-dasharray="1.5 3.85" opacity="0.85"/>
<line x1="616.5" y1="119.2" x2="653" y2="119.2" stroke="#f03030" stroke-width="1.3" stroke-dasharray="1.5 2.5" opacity="0.85"/>
<line x1="625.5" y1="126.1" x2="653" y2="126.1" stroke="#f03030" stroke-width="1.3" stroke-dasharray="1.5 2.5" opacity="0.85"/>
<line x1="592" y1="147.4" x2="667" y2="147.4" stroke="#000" stroke-width="1.2" stroke-dasharray="1.6 3.75" opacity="1"/>
<line x1="636" y1="156.2" x2="667" y2="156.2" stroke="#000" stroke-width="1.2" stroke-dasharray="1.6 3.75" opacity="1"/>
<line x1="440" y1="28" x2="440" y2="66" stroke="#8c8c8c" stroke-width="1.6" />
<path d="M440 23 L438.3 28.9 L440 28.1 L441.7 28.9 Z" fill="#111"/>
<path d="M439.9 71.4 L438.3 65 L439.9 65.8 L441.5 65 Z" fill="#111"/>
<line x1="460.4" y1="28" x2="460.4" y2="79" stroke="#ff1a1a" stroke-width="1.3" />
<path d="M460.4 22.4 L458.1 30.6 L460.4 28.6 L462.7 30.6 Z" fill="#ff1a1a"/>
<path d="M460.3 84.3 L457.9 76.6 L460.3 78.6 L462.7 76.6 Z" fill="#ff1a1a"/>
<line x1="599.3" y1="79" x2="599.3" y2="142" stroke="#111" stroke-width="1.3" />
<path d="M599.3 74.1 L597.65 80.8 L599.3 80 L600.95 80.8 Z" fill="#111"/>
<path d="M599.3 148.6 L597.7 141.3 L599.3 142.1 L600.9 141.3 Z" fill="#111"/>
<line x1="636.2" y1="94" x2="636.2" y2="114" stroke="#ff1a1a" stroke-width="1.3" />
<path d="M636.1 89.3 L634.3 95.4 L636.1 94.4 L637.9 95.4 Z" fill="#ff1a1a"/>
<path d="M636.1 118.9 L634.2 113.4 L636.1 114.4 L638 113.4 Z" fill="#ff1a1a"/>
<path d="M651.4 119.3 Q653.8 123.15 651.4 126.3 Q649 123.15 651.4 119.3 Z" fill="#ff1a1a"/>
<path d="M647.6 146.6 Q650.4 151.5 647.6 155.5 Q644.8 151.5 647.6 146.6 Z" fill="#111"/>
<text transform="translate(417.75 52.5) scale(0.9405 1)" font-size="8.6" fill="#000" font-weight="bold" font-family="Liberation Serif">13.54</text>
<text transform="translate(465.94 52.5) scale(0.9269 1)" font-size="8.9" fill="#f01010" font-weight="bold" font-family="Liberation Serif">17.27</text>
<text transform="translate(576.05 130.8) scale(0.9351 1)" font-size="8.9" fill="#000" font-weight="bold" font-family="Liberation Serif">20.28</text>
<text transform="translate(641.32 108.7) scale(0.9549 1)" font-size="8.9" fill="#f01010" font-weight="bold" font-family="Liberation Serif">8.43</text>
<text transform="translate(655.45 126.2) scale(0.9040 1)" font-size="9.2" fill="#f01010" font-weight="bold" font-family="Liberation Serif">2.05</text>
<text transform="translate(650.16 154.9) scale(0.9009 1)" font-size="9" fill="#000" font-weight="bold" font-family="Liberation Serif">2.62</text>
<rect x="590.8" y="11.6" width="80.0" height="36.2" fill="#000"/>
<rect x="587.4" y="8.5" width="80.6" height="35.8" fill="#fff" stroke="#2a2a2a" stroke-width="0.9"/>
<line x1="588.8" y1="18.8" x2="615.9" y2="18.8" stroke="#4040ff" stroke-width="1.5" />
<line x1="588.8" y1="36.3" x2="615.9" y2="36.3" stroke="#ff00ff" stroke-width="1.5" />
<text transform="translate(619.17 22.6) scale(0.8752 1)" font-size="15.6" fill="#000" font-weight="bold" font-family="Liberation Serif">BC</text>
<text transform="translate(619.36 40.5) scale(0.8870 1)" font-size="15.6" fill="#000" font-weight="bold" font-family="Liberation Serif">Fe</text>
<circle cx="640.45" cy="36.8" r="5.55" fill="none" stroke="#000" stroke-width="0.75"/>
<text transform="translate(636.73 39.5) scale(1.336 1)" font-size="10.8" fill="#000" font-weight="bold" font-style="italic" font-family="Liberation Serif">a</text>
<text transform="translate(647.17 40.5) scale(0.8950 1)" font-size="15.6" fill="#000" font-weight="bold" font-family="Liberation Serif">BC</text>
<rect x="388.9" y="5.3" width="284.4" height="228.4" fill="none" stroke="#474747" stroke-width="1.7"/>
</svg>
</body></html>
